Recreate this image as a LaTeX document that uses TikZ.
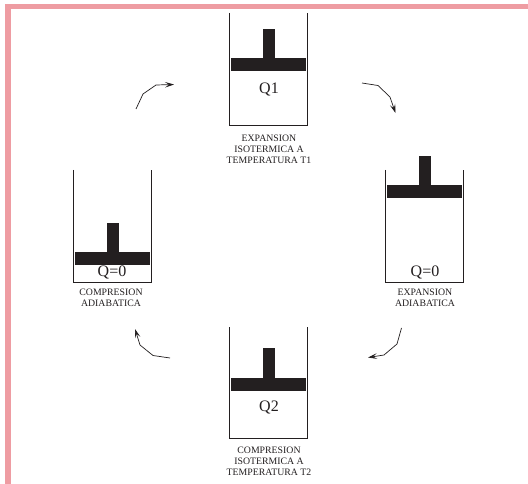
\documentclass[tikz,border=0pt]{standalone}
\usepackage{fontspec}
\setmainfont{Liberation Serif}
\usetikzlibrary{arrows.meta}
\definecolor{band}{HTML}{EE9CA2}
\definecolor{ink}{HTML}{231F20}
\tikzset{
  wall/.style={draw=ink,line width=0.9pt},
  pistonbody/.style={fill=ink,draw=none},
  caption/.style={font=\fontsize{9.8}{11}\selectfont,align=center,text=ink,inner sep=0pt},
  gaslabel/.style={font=\fontsize{16}{18}\selectfont,text=ink,inner sep=0pt,anchor=base},
  cyclearrow/.style={draw=ink,line width=0.7pt,-{Stealth[length=9pt,width=5.5pt,inset=4pt]}}
}
\newcommand{\cyl}[3]{% x-left, y-top, y-bottom
  \draw[wall] (#1,#2) -- (#1,#3) -- (#1+78,#3) -- (#1+78,#2);}
\newcommand{\pist}[3]{% x-left of cylinder, y of stem top, y of head top
  \fill[pistonbody] (#1+1.7,#3) rectangle (#1+76.5,#3+12.7);
  \fill[pistonbody] (#1+33.5,#2) rectangle (#1+45.5,#3);}
\begin{document}
\begin{tikzpicture}[x=1pt,y=-1pt]
\useasboundingbox (0,0) rectangle (528,484);
\fill[white] (0,0) rectangle (528,484);
\fill[band] (5,4) rectangle (528,9);
\fill[band] (5,4) rectangle (11,484);

\cyl{229.5}{13}{125.5}
\pist{229.5}{29}{58.5}
\node[gaslabel] (q1) at (269,93.5) {Q1};
\node[caption] (c1) at (269,149) {EXPANSION\\ISOTERMICA A\\TEMPERATURA T1};

\cyl{385.5}{170}{282}
\pist{385.5}{156}{185}
\node[gaslabel] (q0r) at (425,276.5) {Q=0};
\node[caption] (c2) at (425,297.5) {EXPANSION\\ADIABATICA};

\cyl{229.5}{327}{438}
\pist{229.5}{348}{378}
\node[gaslabel] (q2) at (269,411.5) {Q2};
\node[caption] (c3) at (269,461.5) {COMPRESION\\ISOTERMICA A\\TEMPERATURA T2};

\cyl{73}{170}{282}
\pist{73}{223}{252.5}
\node[gaslabel] (q0l) at (112,276.5) {Q=0};
\node[caption] (c4) at (111,297.5) {COMPRESION\\ADIABATICA};

\coordinate (a1s) at (136,109); \coordinate (a1e) at (174,84.5);
\coordinate (a2s) at (362,83);  \coordinate (a2e) at (395.5,113);
\coordinate (a3s) at (401.5,328); \coordinate (a3e) at (368,357.5);
\coordinate (a4s) at (170,358); \coordinate (a4e) at (135,329);
\draw[cyclearrow] (a1s) -- (143,94) -- (156,85) -- (a1e);
\draw[cyclearrow] (a2s) -- (378,85.5) -- (390,97) -- (a2e);
\draw[cyclearrow] (a3s) -- (397,344) -- (384,355) -- (a3e);
\draw[cyclearrow] (a4s) -- (153,355.5) -- (140,345) -- (a4e);
\end{tikzpicture}
\end{document}
